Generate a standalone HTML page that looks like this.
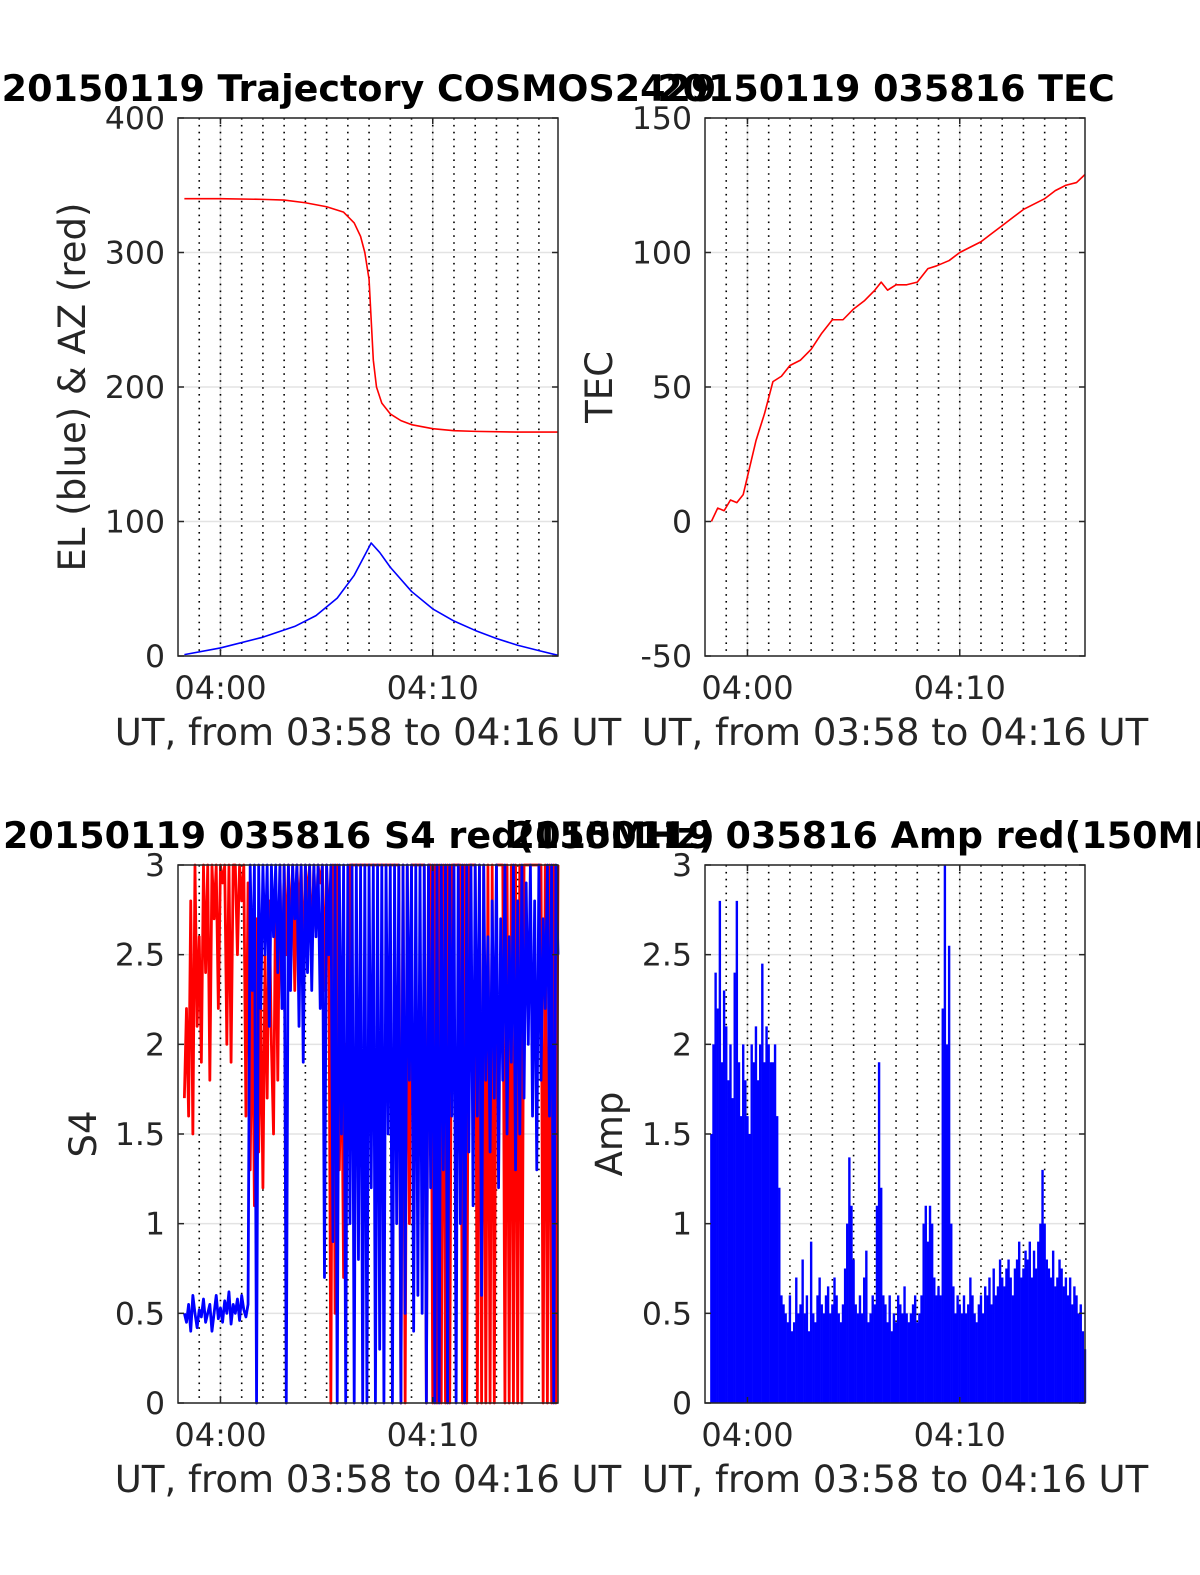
<!DOCTYPE html>
<html><head><meta charset="utf-8"><style>
html,body{margin:0;padding:0;background:#fff;overflow:hidden;width:1200px;height:1575px}
svg{display:block}
text{font-family:"DejaVu Sans","Liberation Sans",sans-serif}
</style></head>
<body>
<svg id="fig" width="1200" height="1575" viewBox="0 0 1200 1575" xmlns="http://www.w3.org/2000/svg"></svg>
<script>
// ---------- data ----------
const xTicks = [60, 70];
const xTickLabels = ["04:00", "04:10"];
const azT = [58.3,60,62,63,64,65,65.8,66.3,66.6,66.8,67.0,67.1,67.2,67.35,67.6,68,68.5,69,70,71,72,74,75.9];
const azV = [340,340,339.5,339,337,334,330,322,312,300,280,250,220,200,188,180,175,172,169,167.5,167,166.5,166.5];
const elT = [58.3,60,62,63.5,64.5,65.5,66.3,66.8,67.1,67.5,68,69,70,71,72,73,74,75,75.9];
const elV = [1,6,14,22,30,43,60,75,84,77,66,48,35,26,19,13,8,4,0.5];
const tecT = [58.3,58.6,58.9,59.2,59.5,59.8,60.1,60.4,60.8,61.2,61.6,62,62.5,63,63.5,64,64.5,65,65.5,66,66.3,66.6,67,67.5,68,68.5,68.9,69.5,70,70.5,71,71.5,72,72.5,73,73.5,74,74.5,75,75.5,75.9];
const tecV = [0,5,4,8,7,10,20,30,40,52,54,58,60,64,70,75,75,79,82,86,89,86,88,88,89,94,95,97,100,102,104,107,110,113,116,118,120,123,125,126,129];
// sampled series: t = 58.3 + 0.1*i
const s4Red = [1.7,2.2,1.6,2.8,1.5,3,2.1,2.6,1.9,3,2.4,3,1.8,3,2.7,3,2.2,3,2.9,3,2.0,3,1.9,3,3,2.5,3,2.8,3,
 1.6,2.9,1.3,2.4,1.1,2.7,1.4,2.2,1.2,2.5,1.7,2.8,2.0,1.5,2.9,1.8,3,2.2,3,2.5,3,
 2.6,3,2.3,3,2.7,3,2.4,3,2.8,3,2.5,3,2.6,3,2.9,3,2.3,3,2.7,
 0,3,0.5,3,1.3,2.2,0.7,2.0,1.5,3,3,3,3,3,3,3,
 3,3,3,3,3,3,3,3,3,3,3,3,3,3,3,3,
 3,0,3,0,3,1.0,3,3,3,3,3,3,3,0,3,3,
 0,3,0,3,0,3,0,3,0,3,3,3,3,3,0,3,
 0,3,3,3,3,0,3,0,3,0,3,0,3,0,3,3,
 3,3,0,3,0,3,0,3,0,3,0,3,3,3,3,3,
 3,3,3,3,0,3,0,3,0,3,0,3];
const s4Blue = [0.5,0.45,0.55,0.4,0.6,0.5,0.42,0.52,0.48,0.58,0.45,0.5,0.55,0.4,0.5,0.6,0.47,0.53,0.45,0.57,0.5,0.62,0.44,0.55,0.5,0.58,0.46,0.6,0.52,0.48,0.55,
 3,2.3,3,0,3,2.2,3,2.5,3,2.1,3,2.6,3,2.4,3,2.2,3,0,3,2.3,3,2.7,3,2.1,3,1.9,3,2.4,3,2.3,3,2.6,3,2.2,3,0.7,3,2.5,
 3,0.9,3,0,3,1.5,3,0,3,1.0,3,0,3,0.8,3,0,
 3,0,3,1.2,3,0,3,0.3,3,0,3,1.5,3,0,3,1.0,
 3,0,3,0.5,3,1.8,3,0.4,3,0.6,3,0.5,3,0,3,1.2,
 3,0,3,0,3,1.3,3,0,3,1.6,3,0,3,1.0,3,0,
 3,1.4,3,1.1,3,1.6,3,0.6,3,1.8,2.6,1.4,2.8,1.7,3,1.2,
 2.7,1.8,3,1.5,2.6,1.9,3,1.3,2.8,1.5,3,1.7,2.9,2.0,3,1.6,
 2.8,1.3,3,1.8,2.7,2.2,3,1.6,3,0,3,2.5];
const ampBlue = [1.5,2.0,2.4,2.2,2.8,1.9,2.3,2.1,1.8,2.0,1.7,2.4,2.8,1.9,1.6,2.0,1.8,1.6,1.5,2.0,1.9,2.1,1.8,2.0,2.45,1.9,2.1,2.0,1.9,1.9,2.0,1.6,1.2,0.6,
 0.55,0.5,0.45,0.6,0.4,0.45,0.7,0.5,0.55,0.8,0.5,0.6,0.4,0.9,0.5,0.45,
 0.6,0.7,0.55,0.5,0.6,0.65,0.5,0.55,0.7,0.6,0.5,0.45,0.55,0.75,1.0,1.37,
 1.1,0.8,0.55,0.5,0.6,0.5,0.7,0.85,0.45,0.5,0.6,0.55,1.1,1.9,1.2,0.6,
 0.55,0.45,0.6,0.4,0.5,0.45,0.6,0.55,0.5,0.65,0.5,0.45,0.5,0.55,0.6,0.45,
 0.5,0.6,1.0,1.1,0.9,1.1,1.0,0.7,0.6,0.65,0.6,2.2,3.0,2.0,2.55,1.0,
 0.65,0.5,0.6,0.55,0.5,0.6,0.5,0.55,0.7,0.6,0.5,0.45,0.55,0.6,0.5,0.65,
 0.6,0.7,0.55,0.75,0.6,0.65,0.8,0.7,0.65,0.75,0.8,0.7,0.6,0.75,0.8,0.9,
 0.7,0.75,0.85,0.8,0.9,0.7,0.85,0.75,0.9,1.0,1.3,1.0,0.8,0.75,0.7,0.85,
 0.65,0.7,0.8,0.75,0.65,0.7,0.6,0.7,0.55,0.65,0.6,0.5,0.55,0.4,0.3];

// ---------- drawing ----------
const NS = "http://www.w3.org/2000/svg";
const svg = document.getElementById("fig");
function mk(tag, attrs, parent) {
  const e = document.createElementNS(NS, tag);
  for (const k in attrs) e.setAttribute(k, attrs[k]);
  (parent || svg).appendChild(e);
  return e;
}
const X0 = 58, X1 = 75.9;
function panel(px, py, ymin, ymax, yticks, ylab, title, name) {
  const w = 380, h = 538;
  const g = mk("g", {});
  
  
  const sx = t => px + (t - X0) / (X1 - X0) * w;
  const sy = v => py + h - (v - ymin) / (ymax - ymin) * h;
  yticks.forEach(v => {
    const l = mk("line", {x1: px, x2: px + w, y1: sy(v), y2: sy(v), stroke: "#e3e3e3", "stroke-width": 1.5}, g);
    
    
  });
  xTicks.forEach(t => {
    const l = mk("line", {x1: sx(t), x2: sx(t), y1: py, y2: py + h, stroke: "#e3e3e3", "stroke-width": 1.5}, g);
    
    
  });
  for (let m = 59; m <= 75; m++) {
    const l = mk("line", {x1: sx(m), x2: sx(m), y1: py, y2: py + h, stroke: "#000", "stroke-width": 1.6, "stroke-dasharray": "1.6,5.3"}, g);
    
    
  }
  const data = mk("g", {}, g);
  
  
  const box = mk("rect", {x: px, y: py, width: w, height: h, fill: "none", stroke: "#262626", "stroke-width": 1.5}, g);
  
  
  yticks.forEach(v => {
    mk("line", {x1: px, x2: px + 6, y1: sy(v), y2: sy(v), stroke: "#262626", "stroke-width": 1.5}, g);
    mk("line", {x1: px + w - 6, x2: px + w, y1: sy(v), y2: sy(v), stroke: "#262626", "stroke-width": 1.5}, g);
    const t = mk("text", {x: px - 13, y: sy(v) + 11, "text-anchor": "end", "font-size": 31.5, fill: "#262626"}, g);
    t.textContent = String(v);
    
    
  });
  xTicks.forEach((tv, i) => {
    mk("line", {x1: sx(tv), x2: sx(tv), y1: py + h, y2: py + h - 6, stroke: "#262626", "stroke-width": 1.5}, g);
    mk("line", {x1: sx(tv), x2: sx(tv), y1: py, y2: py + 6, stroke: "#262626", "stroke-width": 1.5}, g);
    const t = mk("text", {x: sx(tv), y: py + h + 43, "text-anchor": "middle", "font-size": 32, fill: "#262626"}, g);
    t.textContent = xTickLabels[i];
    
    
  });
  const xl = mk("text", {x: px + w / 2, y: py + h + 89, "text-anchor": "middle", "font-size": 37, fill: "#262626"}, g);
  xl.textContent = "UT, from 03:58 to 04:16 UT";
  
  
  const yl = mk("text", {x: 0, y: 0, "text-anchor": "middle", "font-size": 37, fill: "#262626",
    transform: `translate(${ylab.x},${py + h / 2}) rotate(-90)`}, g);
  yl.textContent = ylab.text;
  
  
  const ti = mk("text", {x: px + w / 2 - 9, y: py - 17, "text-anchor": "middle", "font-size": 36.5, "font-weight": "bold", fill: "#000"}, g);
  ti.textContent = title;
  
  
  return {sx, sy, data};
}
function line(p, ts, vs, color, sw, name) {
  const pts = ts.map((t, i) => p.sx(t).toFixed(2) + "," + p.sy(vs[i]).toFixed(2)).join(" ");
  const pl = mk("polyline", {points: pts, fill: "none", stroke: color, "stroke-width": sw, "stroke-linejoin": "round"}, p.data);
  
  
}
const sampT = arr => arr.map((_, i) => 58.3 + 0.1 * i);

const p1 = panel(178, 118, 0, 400, [0,100,200,300,400], {x: 85, text: "EL (blue) & AZ (red)"}, "20150119 Trajectory COSMOS2429", "trajectory-panel");
const p2 = panel(705, 118, -50, 150, [-50,0,50,100,150], {x: 612, text: "TEC"}, "20150119 035816 TEC", "tec-panel");
const p3 = panel(178, 865, 0, 3, [0,0.5,1,1.5,2,2.5,3], {x: 96, text: "S4"}, "20150119 035816 S4 red(150MHz)", "s4-panel");
const p4 = panel(705, 865, 0, 3, [0,0.5,1,1.5,2,2.5,3], {x: 622, text: "Amp"}, "20150119 035816 Amp red(150MHz)", "amp-panel");

line(p1, azT, azV, "#ff0000", 1.6, "az-line");
line(p1, elT, elV, "#0000ff", 1.6, "el-line");
line(p2, tecT, tecV, "#ff0000", 1.6, "tec-line");
line(p3, sampT(s4Red), s4Red, "#ff0000", 2.8, "s4-red-line");
line(p3, sampT(s4Blue), s4Blue, "#0000ff", 2.8, "s4-blue-line");
const ampT = sampT(ampBlue);
ampBlue.forEach((v, i) => {
  const l = mk("line", {x1: p4.sx(ampT[i]), x2: p4.sx(ampT[i]), y1: p4.sy(0), y2: p4.sy(v), stroke: "#0000ff", "stroke-width": 2.4}, p4.data);
  
  
});
</script>
</body></html>
